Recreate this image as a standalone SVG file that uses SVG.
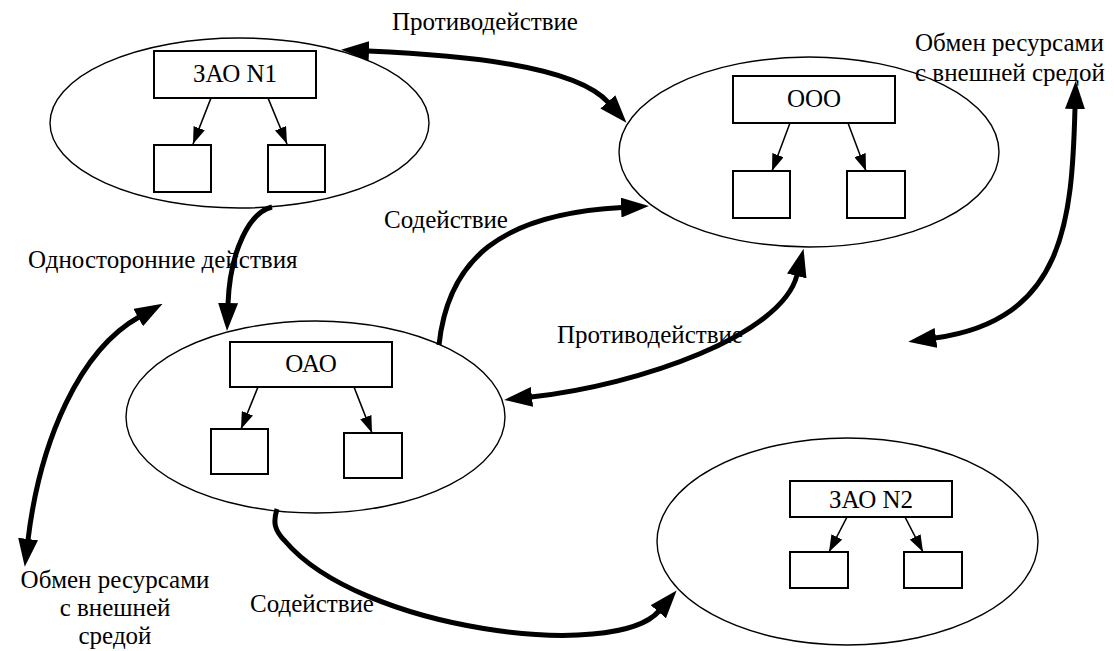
<svg xmlns="http://www.w3.org/2000/svg" width="1114" height="651" viewBox="0 0 1114 651">
<style>
.ell{fill:none;stroke:#000;stroke-width:1.4}
.box{fill:#fff;stroke:#000;stroke-width:2}
.t{font-family:"Liberation Serif","Times New Roman",serif;font-size:25px;fill:#000}
.c{text-anchor:middle}
.big{fill:none;stroke:#000;stroke-width:5;marker-end:url(#ah)}
.dbl{marker-start:url(#ah)}
.sm{fill:none;stroke:#000;stroke-width:1.6;marker-end:url(#as)}
</style>
<defs>
<marker id="ah" markerUnits="userSpaceOnUse" viewBox="0 0 28 20" markerWidth="28" markerHeight="20" refX="1" refY="10" orient="auto-start-reverse"><path d="M0,0 L28,10 L0,20 z" fill="#000"/></marker>
<marker id="as" markerUnits="userSpaceOnUse" viewBox="0 0 17 12" markerWidth="17" markerHeight="12" refX="17" refY="6" orient="auto"><path d="M0,0 L17,6 L0,12 z" fill="#000"/></marker>
</defs>
<rect width="1114" height="651" fill="#fff"/>

<g id="zao1">
<ellipse class="ell" cx="239.5" cy="123" rx="189.5" ry="85"/>
<rect class="box" x="154" y="51" width="162" height="47"/>
<text class="t c" x="235" y="82">ЗАО N1</text>
<rect class="box" x="154" y="145" width="57" height="47"/>
<rect class="box" x="268" y="145" width="57" height="47"/>
<path class="sm" d="M211,98 L193,144"/>
<path class="sm" d="M268,98 L287,144"/>
</g>

<g id="ooo">
<ellipse class="ell" cx="809" cy="152" rx="190" ry="95"/>
<rect class="box" x="733" y="76" width="162" height="47"/>
<text class="t c" x="814" y="107">ООО</text>
<rect class="box" x="733" y="171" width="57" height="47"/>
<rect class="box" x="847" y="171" width="58" height="47"/>
<path class="sm" d="M790,123 L772,171"/>
<path class="sm" d="M848,123 L866,171"/>
</g>

<g id="oao">
<ellipse class="ell" cx="315.5" cy="417" rx="189.5" ry="96"/>
<rect class="box" x="230" y="342" width="162" height="45"/>
<text class="t c" x="311" y="372">ОАО</text>
<rect class="box" x="211" y="429" width="57" height="45"/>
<rect class="box" x="344" y="433" width="58" height="45"/>
<path class="sm" d="M258,387 L241,429"/>
<path class="sm" d="M354,387 L372,433"/>
</g>

<g id="zao2">
<ellipse class="ell" cx="847.5" cy="541.5" rx="190.5" ry="103.5"/>
<rect class="box" x="790" y="481" width="162" height="36"/>
<text class="t c" x="871" y="508">ЗАО N2</text>
<rect class="box" x="790" y="552" width="58" height="36"/>
<rect class="box" x="904" y="552" width="58" height="36"/>
<path class="sm" d="M847,517 L829,552"/>
<path class="sm" d="M905,517 L923,552"/>
</g>

<g id="connectors">
<path class="big dbl" d="M368,51 C460,55 575,65 608.5,102.6"/>
<path class="big dbl" d="M1075,108 C1072,220 1065,320 935,338"/>
<path class="big" d="M439,345 C448,260 500,214 622,207.5"/>
<path class="big dbl" d="M797,275 C782,335 640,385 531,397"/>
<path class="big" d="M272,207 C250,212 230,250 228,304"/>
<path class="big dbl" d="M139,317 C80,350 40,440 28,540"/>
<path class="big" d="M277,509 C273,522 274,530 285,541 C360,630 615,662 659,611"/>
</g>

<g id="labels">
<text class="t" x="392" y="30">Противодействие</text>
<text class="t" x="915" y="51">Обмен ресурсами</text>
<text class="t" x="915" y="81">с внешней средой</text>
<text class="t" x="384" y="228">Содействие</text>
<text class="t" x="28" y="268">Односторонние действия</text>
<text class="t" x="557" y="343">Противодействие</text>
<text class="t c" x="115" y="588">Обмен ресурсами</text>
<text class="t c" x="115" y="616">с внешней</text>
<text class="t c" x="115" y="644">средой</text>
<text class="t" x="250" y="612">Содействие</text>
</g>
</svg>
